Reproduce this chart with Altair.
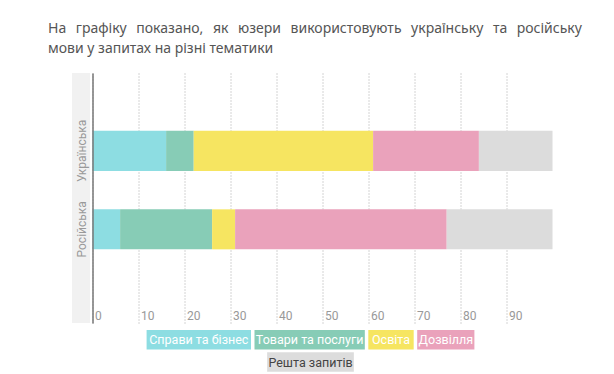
import altair as alt
import pandas as pd

# ---- data ----
categories = ["Справи та бізнес", "Товари та послуги", "Освіта", "Дозвілля", "Решта запитів"]
languages = ["Українська", "Російська"]
ukr_values = [16, 6, 39, 23, 16]
rus_values = [6, 20, 5, 46, 23]
colors = ["#8ddde2", "#87ccb6", "#f6e561", "#eaa2bb", "#dcdcdc"]
text_colors = ["#ffffff", "#ffffff", "#ffffff", "#ffffff", "#444444"]
tick_values = [0, 10, 20, 30, 40, 50, 60, 70, 80, 90]
title_lines = [
    "На графіку показано, як юзери використовують українську та російську",
    "мови у запитах на різні тематики",
]

# first line is justified in the original: widen its word gaps
line1_words = title_lines[0].split(" ")
title_text = [(" \u00a0\u2009").join(line1_words), title_lines[1]]

rows = []
for lang, vals in zip(languages, [ukr_values, rus_values]):
    for i, (cat, v) in enumerate(zip(categories, vals)):
        rows.append({"lang": lang, "cat": cat, "value": v, "order": i})
df = pd.DataFrame(rows)

W, H = 460, 250
LABEL_FONT = "Roboto, Liberation Sans, sans-serif"

# ---- custom legend layout (pixel positions relative to plot area) ----
legend_rows = [[0, 1, 2, 3], [4]]
char_w = 5.9
pad = 5
gap = 3.5
row_y = [257, 279.3]
box_h = 19.5
center_x = 218
leg = []
for r, idxs in enumerate(legend_rows):
    widths = [len(categories[i]) * char_w + 2 * pad for i in idxs]
    total = sum(widths) + gap * (len(idxs) - 1)
    x = center_x - total / 2
    for i, w in zip(idxs, widths):
        leg.append({
            "cat": categories[i], "x0": x, "x1": x + w, "xc": x + w / 2,
            "y0": row_y[r], "y1": row_y[r] + box_h, "yc": row_y[r] + box_h / 2 + 0.5,
            "tc": text_colors[i], "fill": colors[i],
        })
        x += w + gap
leg_df = pd.DataFrame(leg)

color_scale = alt.Scale(domain=categories, range=colors)

band = alt.Chart(pd.DataFrame({"a": [0]})).mark_rect(color="#f1f1f1").encode(
    x=alt.value(-20.5), x2=alt.value(-2.5), y=alt.value(0), y2=alt.value(H)
)

bars = alt.Chart(df).mark_bar().encode(
    x=alt.X("value:Q", stack="zero",
            scale=alt.Scale(domain=[0, 100], nice=False),
            axis=alt.Axis(values=tick_values, grid=True, gridDash=[1, 2], gridColor="#a8a8a8",
                          gridWidth=1, domain=False, ticks=False, labelAlign="left",
                          labelOffset=2, labelPadding=-4, labelBaseline="alphabetic",
                          labelColor="#999999", labelFontSize=12, labelFont=LABEL_FONT,
                          labelFlush=False, title=None)),
    y=alt.Y("lang:N", sort=languages,
            scale=alt.Scale(paddingInner=0.49, paddingOuter=0.838, align=0.44),
            axis=alt.Axis(domainColor="#777777", domainWidth=1.5, ticks=False, labelAngle=270,
                          labelAlign="center", labelBaseline="middle", labelPadding=11,
                          labelColor="#999999", labelFontSize=12, labelFont=LABEL_FONT,
                          title=None, grid=False, zindex=1)),
    color=alt.Color("cat:N", scale=color_scale, legend=None),
    order=alt.Order("order:Q"),
)

leg_rect = alt.Chart(leg_df).mark_rect().encode(
    x=alt.X("x0:Q", scale=None, axis=None), x2="x1:Q",
    y=alt.Y("y0:Q", scale=None, axis=None), y2="y1:Q",
    fill=alt.Fill("fill:N", scale=None),
)
leg_text = alt.Chart(leg_df).mark_text(fontSize=12.5, font=LABEL_FONT, baseline="middle", align="center").encode(
    x=alt.X("xc:Q", scale=None, axis=None),
    y=alt.Y("yc:Q", scale=None, axis=None),
    text="cat:N",
    color=alt.Color("tc:N", scale=None),
)

chart = alt.layer(band, bars, leg_rect, leg_text).properties(
    width=W, height=H,
    title=alt.TitleParams(text=title_text, anchor="start", dx=-24, fontSize=14,
                          font="Noto Sans", color="#555555", fontWeight="normal",
                          lineHeight=20, offset=17),
    autosize=alt.AutoSizeParams(type="none"),
    padding={"left": 84.5, "top": 65, "right": 52, "bottom": 50},
).configure_view(stroke=None)

chart.save("out.html", embed_options={"renderer": "svg", "actions": False})
